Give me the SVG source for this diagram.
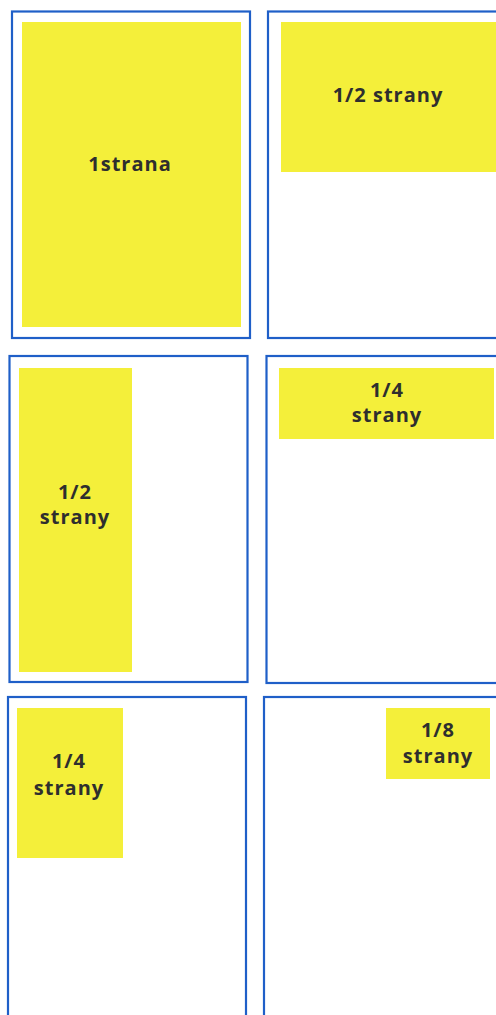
<svg xmlns="http://www.w3.org/2000/svg" width="496" height="1015" viewBox="0 0 496 1015">
<style>
.page{fill:#ffffff;stroke:#1f5fc8;stroke-width:2.2}
.area{fill:#f4ef3a}
.lbl{font-family:"Open Sans","Noto Sans",sans-serif;font-weight:bold;font-size:20px;letter-spacing:1px;fill:#2e2e2e;text-anchor:middle}
</style>
<rect x="0" y="0" width="496" height="1015" fill="#ffffff"/>
<g id="page-1">
<rect class="page" x="12" y="11.5" width="238" height="326.5"/>
<rect class="area" x="22" y="22" width="219" height="305"/>
<text class="lbl" x="130" y="171">1strana</text>
</g>
<g id="page-2">
<rect class="page" x="268" y="11.5" width="240" height="326.5"/>
<rect class="area" x="281" y="22" width="220" height="150"/>
<text class="lbl" x="388" y="102">1/2 strany</text>
</g>
<g id="page-3">
<rect class="page" x="9.5" y="356" width="238" height="326"/>
<rect class="area" x="19" y="368" width="113" height="304"/>
<text class="lbl" x="75" y="499">1/2</text>
<text class="lbl" x="75" y="524">strany</text>
</g>
<g id="page-4">
<rect class="page" x="266.5" y="356" width="240" height="327"/>
<rect class="area" x="279" y="368" width="215" height="71"/>
<text class="lbl" x="387" y="397">1/4</text>
<text class="lbl" x="387" y="422">strany</text>
</g>
<g id="page-5">
<rect class="page" x="8" y="697" width="238" height="340"/>
<rect class="area" x="17" y="708" width="106" height="150"/>
<text class="lbl" x="69" y="768">1/4</text>
<text class="lbl" x="69" y="795">strany</text>
</g>
<g id="page-6">
<rect class="page" x="264" y="697" width="244" height="340"/>
<rect class="area" x="386" y="708" width="104" height="71"/>
<text class="lbl" x="438" y="737">1/8</text>
<text class="lbl" x="438" y="763">strany</text>
</g>
<g id="connectors"></g>
</svg>
